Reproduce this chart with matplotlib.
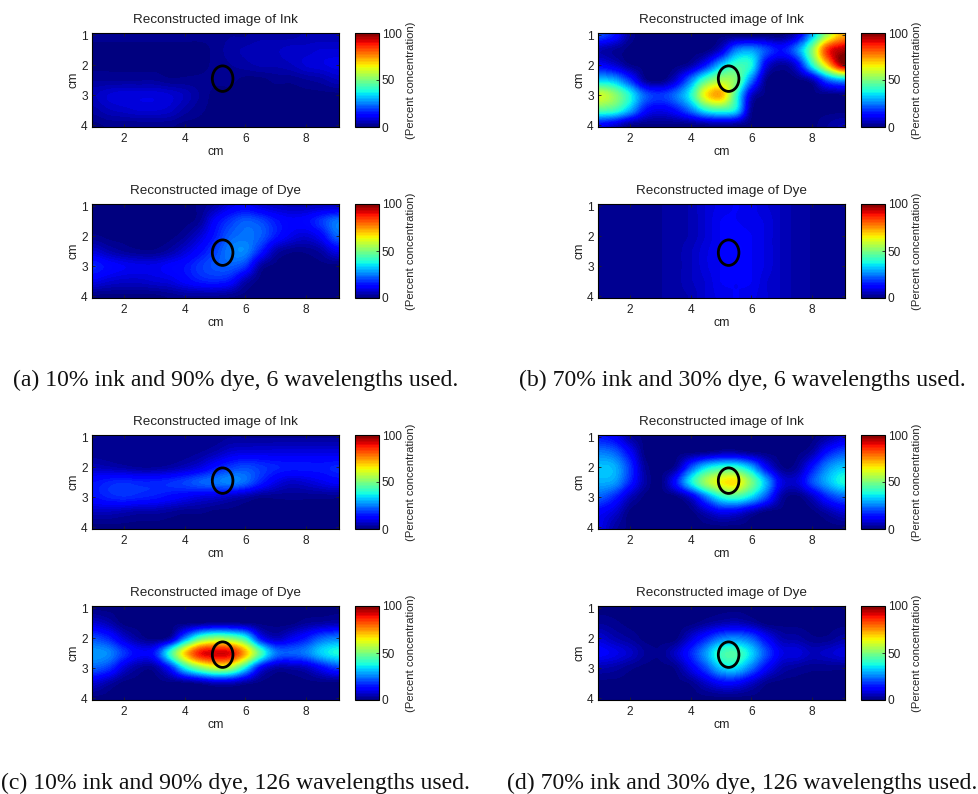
import numpy as np
import matplotlib
matplotlib.use('Agg')
import matplotlib.pyplot as plt
from matplotlib.patches import Ellipse

plt.rcParams['font.family'] = ['Liberation Sans', 'DejaVu Sans']

# percent concentration, rows y=1..4, columns x=1..9 (0.5 cm steps)
grid_x = [1, 1.5, 2, 2.5, 3, 3.5, 4, 4.5, 5, 5.5, 6, 6.5, 7, 7.5, 8, 8.5, 9]
grid_y = [1, 1.5, 2, 2.5, 3, 3.5, 4]

a_ink = [[2, 2, 2, 2, 2, 2, 2, 2, 2, 3, 3, 4, 4, 4, 5, 5, 5],
         [1, 1, 1, 1, 1, 1, 1, 1, 2, 4, 5, 6, 6, 7, 7, 8, 8],
         [1, 1, 1, 1, 1, 1, 1, 1, 2, 3, 4, 5, 5, 6, 8, 9, 10],
         [3, 3, 3, 3, 3, 2, 2, 2, 2, 2, 1, 1, 2, 2, 3, 4, 6],
         [6, 8, 9, 9, 9, 8, 6, 3, 1, 1, 1, 1, 1, 1, 1, 1, 1],
         [4, 6, 7, 8, 8, 7, 4, 2, 1, 1, 1, 1, 1, 1, 1, 1, 1],
         [1, 2, 2, 2, 2, 2, 1, 1, 1, 1, 1, 1, 1, 1, 1, 1, 1]]
a_dye = [[1, 1, 1, 1, 1, 1, 1, 2, 5, 10, 12, 9, 7, 6, 6, 7, 7],
         [1, 1, 1, 1, 1, 1, 1, 3, 12, 18, 22, 20, 15, 12, 13, 18, 24],
         [2, 1, 1, 1, 1, 1, 3, 8, 15, 22, 24, 22, 15, 10, 8, 12, 22],
         [8, 5, 3, 2, 2, 4, 8, 13, 19, 25, 26, 16, 5, 2, 2, 4, 10],
         [16, 13, 11, 10, 10, 12, 14, 18, 21, 22, 18, 4, 1, 1, 1, 1, 1],
         [10, 8, 7, 7, 8, 9, 12, 15, 16, 14, 5, 1, 1, 1, 1, 1, 1],
         [1, 1, 1, 1, 1, 2, 3, 3, 3, 2, 1, 1, 1, 1, 1, 1, 1]]
b_ink = [[20, 14, 3, 1, 1, 1, 1, 1, 1, 1, 1, 1, 1, 8, 30, 55, 72],
         [5, 3, 1, 1, 1, 1, 1, 1, 8, 25, 28, 20, 14, 25, 50, 85, 95],
         [12, 8, 2, 1, 1, 1, 4, 15, 32, 42, 38, 10, 3, 10, 38, 68, 95],
         [33, 30, 18, 3, 1, 8, 25, 45, 55, 50, 25, 2, 1, 1, 5, 22, 30],
         [60, 52, 38, 22, 18, 24, 38, 65, 72, 42, 8, 1, 1, 1, 1, 1, 1],
         [45, 42, 30, 14, 10, 14, 24, 38, 42, 35, 3, 1, 1, 1, 1, 1, 1],
         [12, 8, 2, 1, 1, 1, 1, 2, 3, 2, 1, 1, 1, 1, 1, 3, 5]]
b_dye = [[2, 2, 2, 2, 3, 4, 5, 8, 10, 11, 10, 8, 6, 4, 3, 2, 2],
         [2, 2, 2, 2, 3, 4, 5, 8, 11, 11, 10, 9, 6, 4, 3, 2, 2],
         [2, 2, 2, 2, 3, 4, 5, 8, 11, 12, 11, 9, 6, 4, 3, 2, 2],
         [2, 2, 2, 2, 3, 4, 6, 9, 11, 13, 11, 9, 6, 4, 3, 2, 2],
         [2, 2, 2, 2, 3, 4, 6, 9, 11, 12, 11, 9, 6, 4, 3, 2, 2],
         [2, 2, 2, 2, 3, 4, 6, 8, 11, 11, 11, 8, 6, 4, 3, 2, 2],
         [2, 2, 2, 2, 3, 4, 5, 8, 10, 11, 10, 8, 6, 4, 3, 2, 2]]
c_ink = [[2, 2, 2, 2, 2, 2, 2, 2, 2, 3, 3, 3, 3, 3, 3, 3, 3],
         [2, 2, 2, 2, 2, 2, 2, 3, 5, 8, 9, 9, 9, 9, 9, 9, 9],
         [6, 5, 4, 3, 3, 4, 6, 9, 14, 18, 20, 18, 16, 15, 15, 15, 16],
         [14, 16, 17, 16, 16, 17, 19, 22, 24, 26, 23, 16, 10, 7, 8, 10, 12],
         [14, 16, 17, 16, 15, 13, 11, 9, 8, 6, 4, 2, 2, 2, 2, 2, 2],
         [6, 6, 5, 4, 4, 3, 2, 2, 1, 1, 1, 1, 1, 1, 1, 1, 1],
         [1, 1, 1, 1, 1, 1, 1, 1, 1, 1, 1, 1, 1, 1, 1, 1, 1]]
c_dye = [[1, 1, 1, 1, 1, 1, 1, 1, 1, 1, 1, 1, 1, 1, 1, 1, 1],
         [8, 5, 1, 1, 1, 1, 1, 2, 3, 3, 2, 1, 1, 1, 3, 4, 5],
         [20, 16, 8, 3, 1, 4, 25, 45, 52, 50, 40, 14, 6, 10, 15, 22, 25],
         [28, 26, 18, 12, 15, 40, 68, 88, 92, 90, 72, 45, 25, 22, 25, 33, 38],
         [22, 18, 8, 3, 3, 14, 36, 50, 58, 55, 36, 12, 4, 4, 6, 12, 18],
         [8, 4, 1, 1, 1, 1, 1, 3, 6, 6, 3, 1, 1, 1, 1, 1, 1],
         [1, 1, 1, 1, 1, 1, 1, 1, 1, 1, 1, 1, 1, 1, 1, 1, 1]]
d_ink = [[15, 12, 4, 1, 1, 1, 1, 1, 1, 1, 1, 1, 1, 1, 1, 4, 8],
         [25, 22, 12, 1, 1, 1, 1, 2, 4, 4, 2, 1, 1, 1, 4, 14, 20],
         [32, 30, 18, 3, 1, 3, 20, 34, 40, 40, 30, 12, 2, 3, 14, 26, 32],
         [30, 28, 16, 4, 1, 14, 36, 54, 64, 66, 50, 30, 10, 8, 20, 30, 38],
         [22, 16, 6, 1, 1, 1, 8, 24, 38, 42, 34, 20, 4, 1, 6, 16, 22],
         [12, 8, 1, 1, 1, 1, 1, 6, 11, 10, 5, 1, 1, 1, 1, 4, 8],
         [10, 4, 1, 1, 1, 1, 1, 1, 1, 1, 1, 1, 1, 1, 1, 1, 1]]
d_dye = [[1, 1, 1, 1, 1, 1, 1, 1, 1, 1, 1, 1, 1, 1, 1, 1, 1],
         [3, 2, 1, 1, 1, 1, 1, 3, 5, 6, 4, 1, 1, 1, 1, 1, 1],
         [8, 5, 3, 1, 1, 1, 8, 16, 24, 26, 22, 12, 5, 4, 2, 2, 4],
         [12, 10, 7, 3, 2, 7, 16, 28, 42, 44, 34, 20, 10, 9, 6, 7, 9],
         [5, 4, 2, 1, 1, 2, 10, 20, 32, 34, 24, 12, 5, 3, 2, 2, 2],
         [1, 1, 1, 1, 1, 1, 2, 7, 12, 12, 7, 2, 1, 1, 1, 1, 1],
         [1, 1, 1, 1, 1, 1, 1, 1, 1, 1, 1, 1, 1, 1, 1, 1, 1]]

titles = ['Reconstructed image of Ink', 'Reconstructed image of Dye']
captions = ['(a) 10% ink and 90% dye, 6 wavelengths used.',
            '(b) 70% ink and 30% dye, 6 wavelengths used.',
            '(c) 10% ink and 90% dye, 126 wavelengths used.',
            '(d) 70% ink and 30% dye, 126 wavelengths used.']
target_x = 5.25
target_y_ink = 2.45
target_y_dye = 2.55
target_w = 0.68
target_h = 0.85

W, H = 979, 794
fig = plt.figure(figsize=(W/100, H/100), dpi=100)
jet = plt.get_cmap('jet', 64)
dx = 0.25
dy = 0.25


def px_axes(x0, y0, x1, y1):
    return fig.add_axes([x0/W, 1 - y1/H, (x1 - x0)/W, (y1 - y0)/H])


def panel(data, title, x0, y0, target_y):
    ax = px_axes(x0, y0, x0 + 247, y0 + 94)
    im = ax.imshow(data, cmap=jet, vmin=0, vmax=100, aspect='auto',
                   interpolation='catrom', interpolation_stage='data',
                   extent=(grid_x[0] - dx, grid_x[-1] + dx, grid_y[-1] + dy, grid_y[0] - dy))
    ax.set_xlim(0.94, 9.09)
    ax.set_ylim(4.06, 0.93)
    ax.set_xticks([2, 4, 6, 8])
    ax.set_yticks([1, 2, 3, 4])
    ax.tick_params(direction='in', top=True, right=True, length=2, width=0.6,
                   labelsize=8.6, colors='#222222')
    ax.tick_params(axis='y', pad=3)
    ax.tick_params(axis='x', pad=4)
    ax.set_title(title, fontsize=9.7, pad=7, color='#222222')
    ax.set_xlabel('cm', fontsize=8.8, labelpad=1, color='#222222')
    ax.set_ylabel('cm', fontsize=8.8, labelpad=1, color='#222222')
    for s in ax.spines.values():
        s.set_linewidth(0.8)
    ax.add_patch(Ellipse((target_x, target_y), target_w, target_h, fill=False,
                         edgecolor='black', linewidth=2))

    cax = px_axes(x0 + 263.5, y0, x0 + 287, y0 + 94)
    cb = fig.colorbar(im, cax=cax)
    cb.set_ticks([0, 50, 100])
    cb.ax.tick_params(direction='in', length=2, width=0.6, labelsize=8.6, pad=2,
                      colors='#222222')
    cb.outline.set_linewidth(0.8)
    cb.set_label('(Percent concentration)', fontsize=8.1, labelpad=3, color='#222222')


panel(a_ink, titles[0], 92, 33, target_y_ink)
panel(a_dye, titles[1], 92, 204, target_y_dye)
panel(b_ink, titles[0], 598, 33, target_y_ink)
panel(b_dye, titles[1], 598, 204, target_y_dye)
panel(c_ink, titles[0], 92, 435, target_y_ink)
panel(c_dye, titles[1], 92, 606, target_y_dye)
panel(d_ink, titles[0], 598, 435, target_y_ink)
panel(d_dye, titles[1], 598, 606, target_y_dye)

caption_pos = [(13, 380), (519, 380), (1, 783), (507, 783)]
for (px, py), txt in zip(caption_pos, captions):
    fig.text(px/W, 1 - py/H, txt, family=['Liberation Serif'], fontsize=17.15,
             ha='left', va='center', color='#111111')

fig.savefig('out.png', dpi=100)
